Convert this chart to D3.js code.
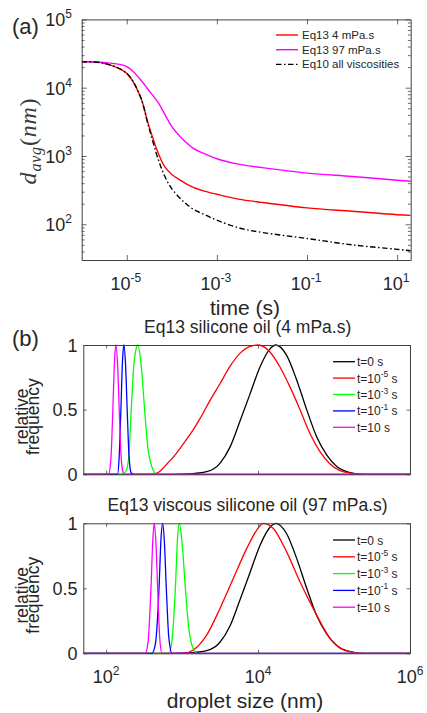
<!DOCTYPE html>
<html>
<head>
<meta charset="utf-8">
<script src="https://cdn.jsdelivr.net/npm/d3@7"></script>
<style>
  html, body { margin: 0; padding: 0; background: #fff; }
  svg text { font-family: "Liberation Sans", Arial, Helvetica, sans-serif; fill: #262626; }
</style>
</head>
<body>
<svg id="fig" width="427" height="713"></svg>
<script>
// ---------- (a) average droplet diameter against time ----------
const timeS      = [1e-6, 3e-6, 1e-5, 2e-5, 3e-5, 5e-5, 7e-5, 1e-4, 1.6e-4, 2e-4, 3e-4, 5e-4, 1e-3, 3e-3, 1e-2, 1e-1, 1, 10, 20];
const dEq13Low   = [24000, 22900, 16200, 7410, 2950, 1100, 692, 537, 437, 398, 347, 309, 275, 234, 209, 174, 155, 138, 135];      // 4 mPa.s
const dEq13High  = [24000, 23400, 20400, 13200, 9330, 6030, 4070, 2690, 1860, 1620, 1290, 1100, 912, 759, 676, 562, 501, 442, 427]; // 97 mPa.s
const dEq10      = [24000, 22900, 16200, 7410, 2820, 891, 501, 331, 234, 204, 166, 141, 115, 89, 76, 62, 50, 43, 41];
const seriesNamesA = ["Eq13 4 mPa.s", "Eq13 97 mPa.s", "Eq10 all viscosities"];
const timeTicks  = [1e-5, 1e-3, 1e-1, 1e1];
const dAvgTicks  = [1e2, 1e3, 1e4, 1e5];

// ---------- (b) size distributions, shared initial state ----------
const sizeInit = [50, 794, 1259, 2104, 3148, 4266, 5768, 7816, 10590, 14350, 17180, 23770, 32210, 43650, 59020, 79980, 108400, 162200, 242700, 1e6];
const freqInit = [0, 0, 0.003, 0.02, 0.085, 0.21, 0.41, 0.62, 0.83, 0.97, 1, 0.92, 0.73, 0.50, 0.29, 0.15, 0.06, 0.013, 0, 0];

// silicone oil, 4 mPa.s
const sizeLowT5  = [50, 417, 501, 631, 794, 1047, 1349, 1718, 2323, 3148, 4266, 5768, 7816, 10070, 14350, 19410, 26300, 35650, 48190, 65310, 88510, 119700, 179100, 251200, 1e6];
const freqLowT5  = [0, 0, 0.02, 0.08, 0.145, 0.24, 0.33, 0.43, 0.57, 0.70, 0.835, 0.935, 0.99, 1, 0.946, 0.83, 0.676, 0.50, 0.316, 0.175, 0.08, 0.028, 0.006, 0, 0];
const sizeLowT3  = [50, 166, 186.2, 199.5, 213.8, 234.4, 261.8, 288.4, 320.6, 354.8, 398.1, 467.7, 1e6];
const freqLowT3  = [0, 0, 0.04, 0.15, 0.5, 0.88, 1, 0.85, 0.5, 0.2, 0.06, 0, 0];
const sizeLowT1  = [50, 141.3, 147.9, 156.3, 164.1, 171.0, 179.9, 189.2, 199.5, 213.8, 229.1, 1e6];
const freqLowT1  = [0, 0, 0.12, 0.5, 0.88, 1, 0.85, 0.5, 0.15, 0.01, 0, 0];
const sizeLowT10 = [50, 107.2, 114.8, 122.5, 128.8, 134.3, 141.3, 148.6, 156.7, 167.9, 173.0, 1e6];
const freqLowT10 = [0, 0, 0.1, 0.5, 0.88, 1, 0.85, 0.5, 0.15, 0.01, 0, 0];

// viscous silicone oil, 97 mPa.s
const sizeHighT5  = [50, 1035, 1403, 2104, 3148, 4710, 7079, 9572, 11700, 15850, 23770, 35560, 59020, 88310, 120200, 166000, 223900, 1e6];
const freqHighT5  = [0, 0, 0.026, 0.14, 0.345, 0.575, 0.805, 0.946, 1, 0.96, 0.78, 0.55, 0.294, 0.115, 0.04, 0.01, 0, 0];
const sizeHighT3  = [50, 665.3, 736.2, 814.7, 873.0, 920.4, 997.7, 1104, 1219, 1352, 1574, 1e6];
const freqHighT3  = [0, 0, 0.1, 0.5, 0.9, 1, 0.85, 0.5, 0.2, 0.06, 0, 0];
const sizeHighT1  = [50, 400.9, 446.7, 496.6, 527.2, 554.6, 584.8, 619.4, 668.3, 736.2, 1e6];
const freqHighT1  = [0, 0, 0.08, 0.5, 0.88, 1, 0.85, 0.5, 0.12, 0, 0];
const sizeHighT10 = [50, 327.3, 354.8, 389.0, 412.1, 430.5, 451.9, 476.4, 507.0, 543.3, 1e6];
const freqHighT10 = [0, 0, 0.08, 0.5, 0.88, 1, 0.85, 0.5, 0.12, 0, 0];

const legendTimes = [["0", null], ["10", "-5"], ["10", "-3"], ["10", "-1"], ["10", null]];
const sizeTicks   = [1e2, 1e4, 1e6];
const freqTicks   = [0, 0.5, 1];

// ---------- drawing ----------
const svg = d3.select("#fig");
const FRAME = "#404040";
const distColors = ["#000000", "#ff0000", "#00ff00", "#0000ff", "#ff00ff"];

function pow10Label(sel, exp, small, raise) {
  sel.append("tspan").text("10");
  sel.append("tspan").attr("font-size", small).attr("dy", -raise).text(exp);
}

function frame(g, x, y, box, xTicks, yTicks, yMinor, len, minorLen) {
  const mk = (axis, tr, vals, l, keepDomain) => {
    const a = g.append("g").attr("transform", tr).attr("color", FRAME)
      .call(axis.tickValues(vals).tickSize(-l).tickSizeOuter(0).tickFormat(""));
    a.selectAll("line").attr("stroke-width", 0.8);
    a.select(".domain").attr("stroke-width", 1);
    if (!keepDomain) a.select(".domain").remove();
  };
  mk(d3.axisBottom(x), `translate(0,${box.bottom})`, xTicks, len, true);
  mk(d3.axisTop(x), `translate(0,${box.top})`, xTicks, len, true);
  mk(d3.axisLeft(y), `translate(${box.left},0)`, yTicks, len, true);
  mk(d3.axisRight(y), `translate(${box.right},0)`, yTicks, len, true);
  if (yMinor.length) {
    mk(d3.axisLeft(y), `translate(${box.left},0)`, yMinor, minorLen, false);
    mk(d3.axisRight(y), `translate(${box.right},0)`, yMinor, minorLen, false);
  }
}

function clipFor(id, box) {
  svg.append("clipPath").attr("id", id).append("rect")
    .attr("x", box.left).attr("y", box.top - 1)
    .attr("width", box.right - box.left).attr("height", box.bottom - box.top + 2);
  return `url(#${id})`;
}

// ===== panel (a) =====
const boxA = { left: 81.7, right: 410.7, top: 19.4, bottom: 260 };
const xA = d3.scaleLog().domain([1e-6, 20]).range([boxA.left, boxA.right]);
const yA = d3.scaleLog().domain([30, 1e5]).range([boxA.bottom, boxA.top]);
const gA = svg.append("g");
const minorA = yA.ticks().filter(v => Math.abs(Math.log10(v) - Math.round(Math.log10(v))) > 1e-6);

const lineA = d3.line().x(d => xA(d[0])).y(d => yA(d[1])).curve(d3.curveCatmullRom.alpha(0.5));
const plotA = gA.append("g").attr("clip-path", clipFor("clipA", boxA));
const seriesA = [
  { vals: dEq13Low,  color: "#ff0000", dash: null },
  { vals: dEq13High, color: "#ff00ff", dash: null },
  { vals: dEq10,     color: "#000000", dash: "5.5,2.5,1.5,2.5" }
];
seriesA.forEach(s => {
  plotA.append("path").datum(d3.zip(timeS, s.vals)).attr("d", lineA)
    .attr("fill", "none").attr("stroke", s.color).attr("stroke-width", 1.4)
    .attr("stroke-dasharray", s.dash).attr("stroke-linejoin", "round");
});
frame(gA, xA, yA, boxA, timeTicks, dAvgTicks, minorA, 5, 2.8);

// tick labels (a)
dAvgTicks.forEach(v => {
  const t = gA.append("text").attr("x", 72).attr("y", yA(v) + 7)
    .attr("text-anchor", "end").attr("font-size", 18);
  pow10Label(t, String(Math.round(Math.log10(v))), 12, 8);
});
timeTicks.forEach(v => {
  const t = gA.append("text").attr("x", xA(v) - 1).attr("y", 290)
    .attr("text-anchor", "middle").attr("font-size", 18);
  pow10Label(t, String(Math.round(Math.log10(v))), 12, 8);
});
gA.append("text").attr("x", 245).attr("y", 315).attr("text-anchor", "middle")
  .attr("font-size", 21).text("time (s)");
// y label d_avg(nm)
const yl = gA.append("text").attr("transform", "translate(36,141) rotate(-90)")
  .attr("text-anchor", "middle").attr("font-size", 24)
  .style("font-family", '"Liberation Serif", "Times New Roman", serif')
  .style("fill", "#3a3a3a")
  .attr("letter-spacing", 0.8);
yl.append("tspan").attr("font-style", "italic").text("d");
yl.append("tspan").attr("font-style", "italic").attr("font-size", 16).attr("dy", 5).text("avg");
yl.append("tspan").attr("dy", -5).text("(");
yl.append("tspan").attr("font-style", "italic").text("nm");
yl.append("tspan").text(")");

gA.append("text").attr("x", 12).attr("y", 34).attr("font-size", 22).text("(a)");

// legend (a)
seriesA.forEach((s, i) => {
  const yy = 35 + i * 14.7;
  gA.append("line").attr("x1", 276).attr("x2", 298).attr("y1", yy).attr("y2", yy)
    .attr("stroke", s.color).attr("stroke-width", 1.4).attr("stroke-dasharray", s.dash);
  gA.append("text").attr("x", 302).attr("y", yy + 4).attr("font-size", 11.5).text(seriesNamesA[i]);
});

// ===== panels (b) =====
function distPanel(box, id, title, sets, withXLabels, legendTop, legendStep) {
  const x = d3.scaleLog().domain([50, 1e6]).range([box.left, box.right]);
  const y = d3.scaleLinear().domain([0, 1]).range([box.bottom, box.top]);
  const g = svg.append("g");
  const line = d3.line().x(d => x(d[0])).y(d => y(d[1])).curve(d3.curveMonotoneX);
  const plot = g.append("g").attr("clip-path", clipFor(id, box));
  sets.forEach((s, i) => {
    plot.append("path").datum(d3.zip(s[0], s[1])).attr("d", line)
      .attr("fill", "none").attr("stroke", distColors[i]).attr("stroke-width", 1.3)
      .attr("stroke-linejoin", "round");
  });
  frame(g, x, y, box, sizeTicks, freqTicks, [], 3.5, 0);

  freqTicks.forEach(v => {
    g.append("text").attr("x", 77.5).attr("y", y(v) + 6.5).attr("text-anchor", "end")
      .attr("font-size", 18).text(String(v));
  });
  if (withXLabels) {
    sizeTicks.forEach(v => {
      const t = g.append("text").attr("x", x(v)).attr("y", 683)
        .attr("text-anchor", "middle").attr("font-size", 18);
      pow10Label(t, String(Math.round(Math.log10(v))), 12, 8);
    });
    g.append("text").attr("x", 245).attr("y", 708).attr("text-anchor", "middle")
      .attr("font-size", 21).text("droplet size (nm)");
  }
  g.append("text").attr("x", (box.left + box.right) / 2 + 1).attr("y", box.top - 12)
    .attr("text-anchor", "middle").attr("font-size", 17.5).text(title);

  const cy = (box.top + box.bottom) / 2 + 7;
  g.append("text").attr("transform", `translate(28,${cy}) rotate(-90)`)
    .attr("text-anchor", "middle").attr("font-size", 17.5).text("relative");
  g.append("text").attr("transform", `translate(38.5,${cy}) rotate(-90)`)
    .attr("text-anchor", "middle").attr("font-size", 17.5).text("frequency");

  legendTimes.forEach((lt, i) => {
    const yy = legendTop + i * legendStep;
    g.append("line").attr("x1", 333).attr("x2", 355).attr("y1", yy).attr("y2", yy)
      .attr("stroke", distColors[i]).attr("stroke-width", 1.3);
    const t = g.append("text").attr("x", 357).attr("y", yy + 4.5).attr("font-size", 12);
    t.append("tspan").text("t=" + lt[0]);
    if (lt[1]) {
      t.append("tspan").attr("font-size", 8.5).attr("dy", -5.5).text(lt[1]);
      t.append("tspan").attr("dy", 5.5).text(" s");
    } else {
      t.append("tspan").text(" s");
    }
  });
  return g;
}

const boxB1 = { left: 83.3, right: 410, top: 345, bottom: 474.3 };
const boxB2 = { left: 83.3, right: 410, top: 523.3, bottom: 653.3 };

distPanel(boxB1, "clipB1", "Eq13 silicone oil (4 mPa.s)", [
  [sizeInit, freqInit], [sizeLowT5, freqLowT5], [sizeLowT3, freqLowT3],
  [sizeLowT1, freqLowT1], [sizeLowT10, freqLowT10]
], false, 361.7, 16.4);

distPanel(boxB2, "clipB2", "Eq13 viscous silicone oil (97 mPa.s)", [
  [sizeInit, freqInit], [sizeHighT5, freqHighT5], [sizeHighT3, freqHighT3],
  [sizeHighT1, freqHighT1], [sizeHighT10, freqHighT10]
], true, 540, 16.8);

svg.append("text").attr("x", 12).attr("y", 346).attr("font-size", 22).text("(b)");
</script>
</body>
</html>
